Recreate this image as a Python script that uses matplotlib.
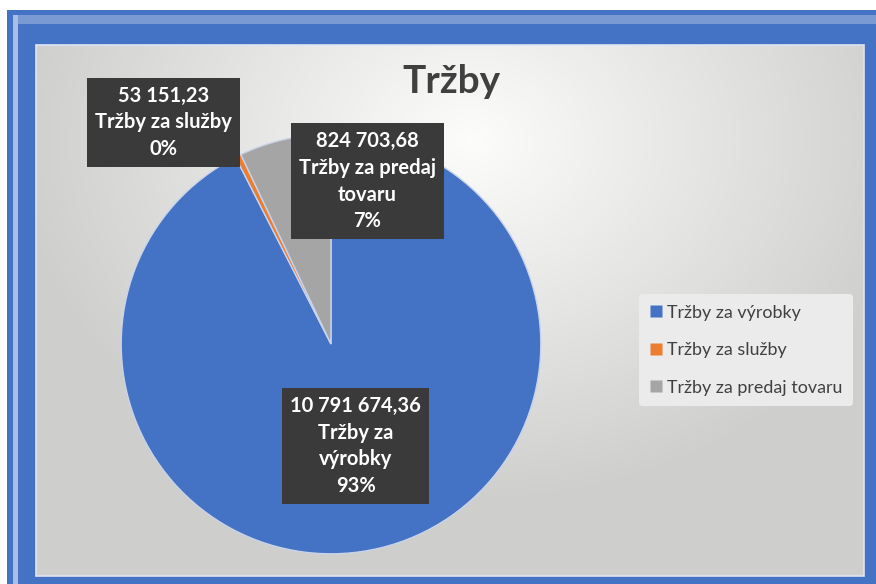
import numpy as np
import matplotlib.pyplot as plt
from matplotlib.patches import Rectangle
from matplotlib.lines import Line2D

plt.rcParams['font.family'] = ['Lato', 'DejaVu Sans']

# data
categories = ['Tržby za výrobky', 'Tržby za služby', 'Tržby za predaj tovaru']
values = [10791674.36, 53151.23, 824703.68]
value_text = ['10 791 674,36', '53 151,23', '824 703,68']
label_names = ['Tržby za\nvýrobky', 'Tržby za služby', 'Tržby za predaj\ntovaru']
pct_text = ['93%', '0%', '7%']   # as excel shows them
colors = ['#4472C4', '#ED7D31', '#A5A5A5']

# where excel put the data labels (pie data coords)
label_pos = [(0.117, -0.486), (-0.80, 1.056), (0.173, 0.776)]

W, H = 876, 584
fig = plt.figure(figsize=(W / 100, H / 100), dpi=100)
fig.patch.set_facecolor('white')

# frame + background, in pixel coords
bg = fig.add_axes([0, 0, 1, 1])
bg.set_xlim(0, W)
bg.set_ylim(H, 0)
bg.axis('off')
bg.add_patch(Rectangle((7, 10), W - 7, H - 10, facecolor='#4472C4', edgecolor='none'))
bg.add_patch(Rectangle((13, 15), W - 13, 9, facecolor='#9fb5e0', edgecolor='none', alpha=0.6))
bg.add_patch(Rectangle((13, 15), 5, H - 15, facecolor='#aabde6', edgecolor='none'))

x0, x1, y0, y1 = 36, 864, 45, 576
xx, yy = np.meshgrid(np.arange(x0, x1), np.arange(y0, y1))
d = np.sqrt(((xx - 470) / 480.0) ** 2 + ((yy - 140) / 380.0) ** 2)
shade = np.clip(0.99 - 0.19 * d, 0.81, 0.99)
img = np.dstack([shade, shade, shade * 0.995])
bg.imshow(img, extent=(x0, x1, y1, y0), aspect='auto', zorder=2)
bg.add_patch(Rectangle((x0, y0), x1 - x0, y1 - y0, facecolor='none',
                       edgecolor='#dfe5f2', linewidth=1.2, zorder=3))

bg.text(451, 93, 'Tržby', fontsize=28, fontweight='bold', color='#404040',
        ha='center', va='baseline', zorder=4)

# pie
cx, cy, r = 331, 344, 214
ax = fig.add_axes([(cx - r) / W, (H - cy - r) / H, 2 * r / W, 2 * r / H])
ax.set_zorder(5)
ax.patch.set_alpha(0)
wedges, _ = ax.pie(values, colors=colors, startangle=90, counterclock=False,
                   radius=1.0, wedgeprops=dict(edgecolor='#c9d3ea', linewidth=1.0))
ax.set_xlim(-1.02, 1.02)
ax.set_ylim(-1.02, 1.02)
ax.set_aspect('equal')

for i in range(len(values)):
    txt = value_text[i] + '\n' + label_names[i] + '\n' + pct_text[i]
    ax.text(label_pos[i][0], label_pos[i][1], txt, ha='center', va='center',
            fontsize=14.5, fontweight='bold', color='white', linespacing=1.42,
            bbox=dict(boxstyle='square,pad=0.4', facecolor='#3a3a3a', edgecolor='none'),
            zorder=10, clip_on=False)

# legend
handles = [Line2D([0], [0], marker='s', color='none', markerfacecolor=c,
                  markeredgecolor='none', markersize=8) for c in colors]
leg = fig.legend(handles, categories, loc='upper left',
                 bbox_to_anchor=(630 / W, 1 - 285 / H), frameon=True,
                 fontsize=12.9, labelcolor='#404040', handlelength=0.7,
                 handletextpad=0.25, labelspacing=1.2, borderpad=0.6)
leg.get_frame().set_facecolor('#ebebeb')
leg.get_frame().set_edgecolor('none')
leg.get_frame().set_alpha(1)
leg.set_zorder(6)

fig.savefig('out.png', dpi=100)
